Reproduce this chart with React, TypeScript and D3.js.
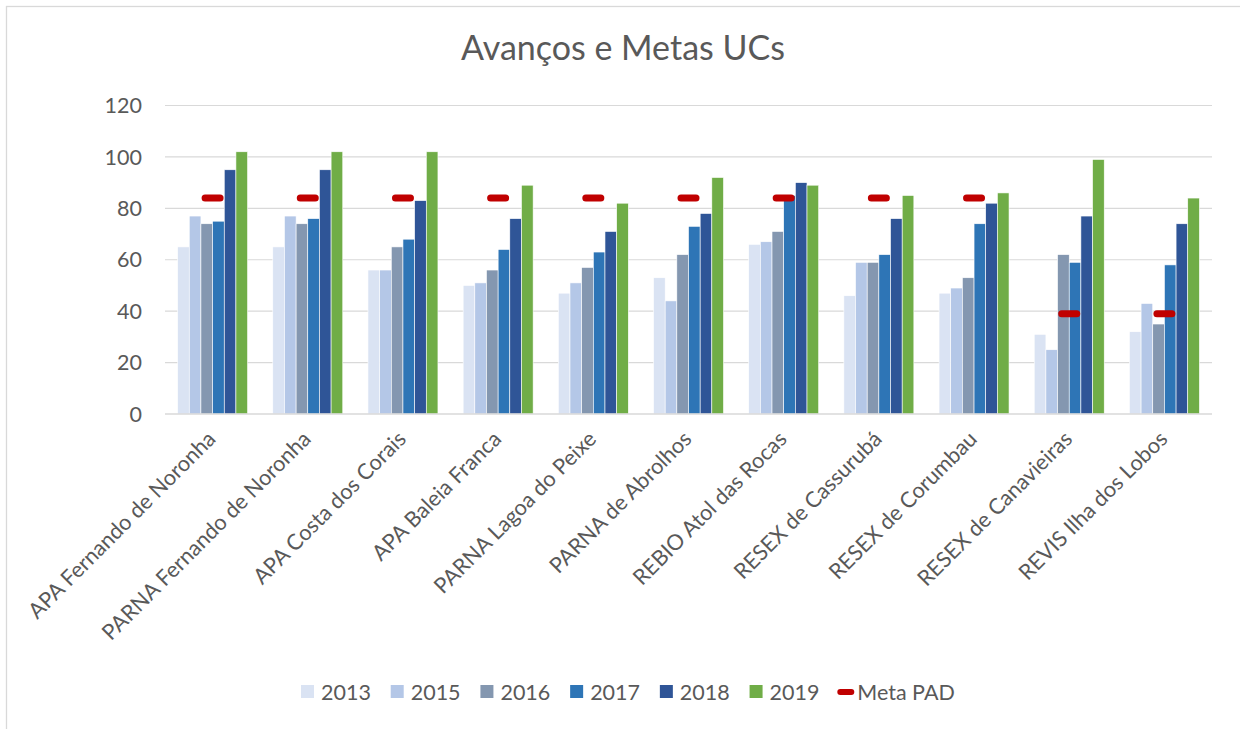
import React from "react";
import * as d3 from "d3";

const categories = [
  "APA Fernando de Noronha",
  "PARNA Fernando de Noronha",
  "APA Costa dos Corais",
  "APA Baleia Franca",
  "PARNA Lagoa do Peixe",
  "PARNA de Abrolhos",
  "REBIO Atol das Rocas",
  "RESEX de Cassurubá",
  "RESEX de Corumbau",
  "RESEX de Canavieiras",
  "REVIS Ilha dos Lobos",
];

const years = ["2013", "2015", "2016", "2017", "2018", "2019"];
const yearColors = ["#dae3f3", "#b4c7e7", "#8497b0", "#2e75b6", "#2f5597", "#70ad47"];

const v2013 = [65, 65, 56, 50, 47, 53, 66, 46, 47, 31, 32];
const v2015 = [77, 77, 56, 51, 51, 44, 67, 59, 49, 25, 43];
const v2016 = [74, 74, 65, 56, 57, 62, 71, 59, 53, 62, 35];
const v2017 = [75, 76, 68, 64, 63, 73, 85, 62, 74, 59, 58];
const v2018 = [95, 95, 83, 76, 71, 78, 90, 76, 82, 77, 74];
const v2019 = [102, 102, 102, 89, 82, 92, 89, 85, 86, 99, 84];
const metaPAD = [84, 84, 84, 84, 84, 84, 84, 84, 84, 39, 39];

const yTicks = [0, 20, 40, 60, 80, 100, 120];

const series = [v2013, v2015, v2016, v2017, v2018, v2019];

const W = 1240;
const H = 729;
const FONT = "Lato, 'Open Sans', sans-serif";
const TXT = "#595959";

export default function App() {
  const x = d3.scaleBand<string>().domain(categories).range([165, 1212]).paddingInner(0).paddingOuter(0);
  const inner = d3
    .scaleBand<string>()
    .domain(years)
    .range([0, x.bandwidth() / 1.36]);
  const groupOffset = (x.bandwidth() - x.bandwidth() / 1.36) / 2;
  const y = d3.scaleLinear().domain([0, 120]).range([414, 105.5]);

  const legendX = d3.scaleBand<string>().domain([...years, "Meta PAD"]).range([301, 929]);

  return (
    <div style={{ position: "absolute", left: 0, top: 0 }}>
      <svg width={W} height={H} style={{ display: "block", fontFamily: FONT }}>
        <rect x={0} y={0} width={W} height={H} fill="#fff" />
        <rect x={6.5} y={6.5} width={W + 20} height={H + 20} fill="none" stroke="#d9d9d9" strokeWidth={1.3} />

        <text x={623} y={60} textAnchor="middle" fill={TXT} fontSize={34}>
          Avanços e Metas UCs
        </text>

        {/* gridlines + y labels */}
        {yTicks.map((t) => (
          <g key={t}>
            {t > 0 && (
              <line x1={165} x2={1212} y1={y(t)} y2={y(t)} stroke="#d9d9d9" strokeWidth={1.2} />
            )}
            <text x={142} y={y(t)} dy="0.36em" textAnchor="end" fill={TXT} fontSize={21.5}>
              {t}
            </text>
          </g>
        ))}

        {/* bars */}
        {categories.map((c, i) => (
          <g key={c} transform={`translate(${(x(c) ?? 0) + groupOffset},0)`}>
            {series.map((s, j) => (
              <rect
                key={years[j]}
                x={inner(years[j])}
                y={y(s[i])}
                width={inner.bandwidth()}
                height={y(0) - y(s[i])}
                fill={yearColors[j]}
                stroke="#fff"
                strokeWidth={0.6}
              />
            ))}
          </g>
        ))}

        <line x1={165} x2={1212} y1={414} y2={414} stroke="#d9d9d9" strokeWidth={1.6} />

        {/* Meta PAD markers */}
        {categories.map((c, i) => {
          const cx = (x(c) ?? 0) + x.bandwidth() / 2;
          return (
            <rect
              key={"m" + c}
              x={cx - 11}
              y={y(metaPAD[i]) - 3.5}
              width={22}
              height={7}
              rx={3.5}
              fill="#c00000"
            />
          );
        })}

        {/* category labels */}
        {categories.map((c) => {
          const cx = (x(c) ?? 0) + x.bandwidth() / 2;
          return (
            <text
              key={"l" + c}
              transform={`translate(${cx - 1},${435}) rotate(-45)`}
              textAnchor="end"
              dy="0.35em"
              fill={TXT}
              fontSize={21.7}
            >
              {c}
            </text>
          );
        })}

        {/* legend */}
        {[...years, "Meta PAD"].map((k, i) => {
          const lx = legendX(k) ?? 0;
          const isMeta = k === "Meta PAD";
          return (
            <g key={"lg" + k} transform={`translate(${lx},692)`}>
              {isMeta ? (
                <rect x={-2} y={-3} width={17} height={6} rx={3} fill="#c00000" />
              ) : (
                <rect x={0} y={-7} width={13} height={13} fill={yearColors[i]} />
              )}
              <text x={isMeta ? 18 : 20} y={0} dy="0.36em" fill={TXT} fontSize={21.5}>
                {k}
              </text>
            </g>
          );
        })}
      </svg>
    </div>
  );
}
